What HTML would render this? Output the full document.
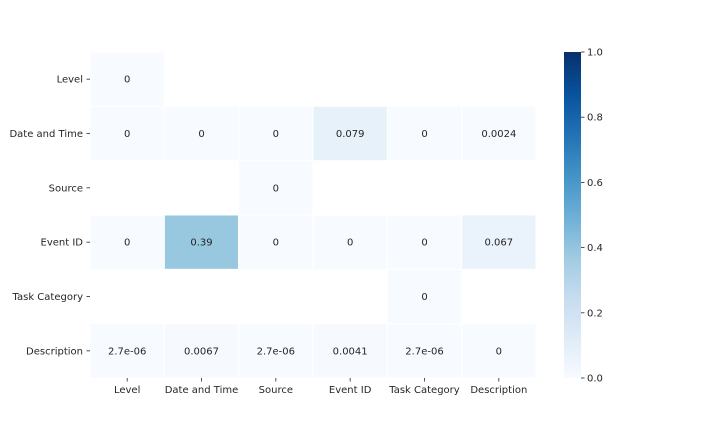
<!DOCTYPE html>
<html><head><meta charset="utf-8"><style>
body{margin:0;background:#fff;}
svg text{font-family:"DejaVu Sans","Liberation Sans",sans-serif;font-size:10px;fill:#262626;}
</style></head><body>
<svg id="chart" width="720" height="432" xmlns="http://www.w3.org/2000/svg">
<defs><linearGradient id="blues" x1="0" y1="1" x2="0" y2="0">
<stop offset="0" stop-color="#f7fbff"/><stop offset="0.125" stop-color="#deebf7"/><stop offset="0.25" stop-color="#c6dbef"/><stop offset="0.375" stop-color="#9ecae1"/><stop offset="0.5" stop-color="#6baed6"/><stop offset="0.625" stop-color="#4292c6"/><stop offset="0.75" stop-color="#2171b5"/><stop offset="0.875" stop-color="#08519c"/><stop offset="1" stop-color="#08306b"/>
</linearGradient></defs>
</svg>
<script>
const categories = ["Level","Date and Time","Source","Event ID","Task Category","Description"];
const values = [
 [0,null,null,null,null,null],
 [0,0,0,0.079,0,0.0024],
 [null,null,0,null,null,null],
 [0,0.39,0,0,0,0.067],
 [null,null,null,null,0,null],
 [2.7e-6,0.0067,2.7e-6,0.0041,2.7e-6,0]
];
const labels = [
 ["0","","","","",""],
 ["0","0","0","0.079","0","0.0024"],
 ["","","0","","",""],
 ["0","0.39","0","0","0","0.067"],
 ["","","","","0",""],
 ["2.7e-06","0.0067","2.7e-06","0.0041","2.7e-06","0"]
];
const cbTicks = [0,0.2,0.4,0.6,0.8,1.0];

const NS="http://www.w3.org/2000/svg", svg=document.getElementById('chart');
const X0=90,X1=536,Y0=52,Y1=378, cw=(X1-X0)/categories.length, ch=(Y1-Y0)/categories.length;
const xPos=i=>X0+i*cw, yPos=i=>Y0+i*ch;
const stops=[[0,[247,251,255]],[.125,[222,235,247]],[.25,[198,219,239]],[.375,[158,202,225]],[.5,[107,174,214]],[.625,[66,146,198]],[.75,[33,113,181]],[.875,[8,81,156]],[1,[8,48,107]]];
function color(v){for(let i=1;i<stops.length;i++){if(v<=stops[i][0]){const a=stops[i-1],b=stops[i],t=(v-a[0])/(b[0]-a[0]);return 'rgb('+a[1].map((c,k)=>Math.round(c+(b[1][k]-c)*t)).join(',')+')';}}return 'rgb(8,48,107)';}
function mk(tag,attrs,txt){const e=document.createElementNS(NS,tag);for(const k in attrs)e.setAttribute(k,attrs[k]);if(txt!==undefined)e.textContent=txt;svg.appendChild(e);return e;}
values.forEach((row,r)=>row.forEach((v,c)=>{
 if(v===null)return;
 const rc=mk('rect',{x:xPos(c),y:yPos(r),width:cw,height:ch,fill:color(v),stroke:'#fff','stroke-width':1});
 
 
 const t=mk('text',{x:xPos(c)+cw/2,y:yPos(r)+ch/2+3.5,'text-anchor':'middle'},labels[r][c]);
 
 
}));
categories.forEach((n,i)=>{
 const t=mk('text',{x:X0-7,y:yPos(i)+ch/2+3.5,'text-anchor':'end'},n);
 
 
 mk('line',{x1:X0-3.5,x2:X0,y1:yPos(i)+ch/2,y2:yPos(i)+ch/2,stroke:'#262626','stroke-width':0.8});
 const u=mk('text',{x:xPos(i)+cw/2,y:Y1+15,'text-anchor':'middle'},n);
 
 
 mk('line',{x1:xPos(i)+cw/2,x2:xPos(i)+cw/2,y1:Y1,y2:Y1+3.5,stroke:'#262626','stroke-width':0.8});
});
const CX=564,CW=17;
const cb=mk('rect',{x:CX,y:Y0,width:CW,height:Y1-Y0,fill:'url(#blues)'});


cbTicks.forEach(v=>{
 const y=Y1-v*(Y1-Y0);
 mk('line',{x1:CX+CW,x2:CX+CW+3.5,y1:y,y2:y,stroke:'#262626','stroke-width':0.8});
 const t=mk('text',{x:CX+CW+6,y:y+3.5},v.toFixed(1));
 
 
});
</script>
</body></html>
